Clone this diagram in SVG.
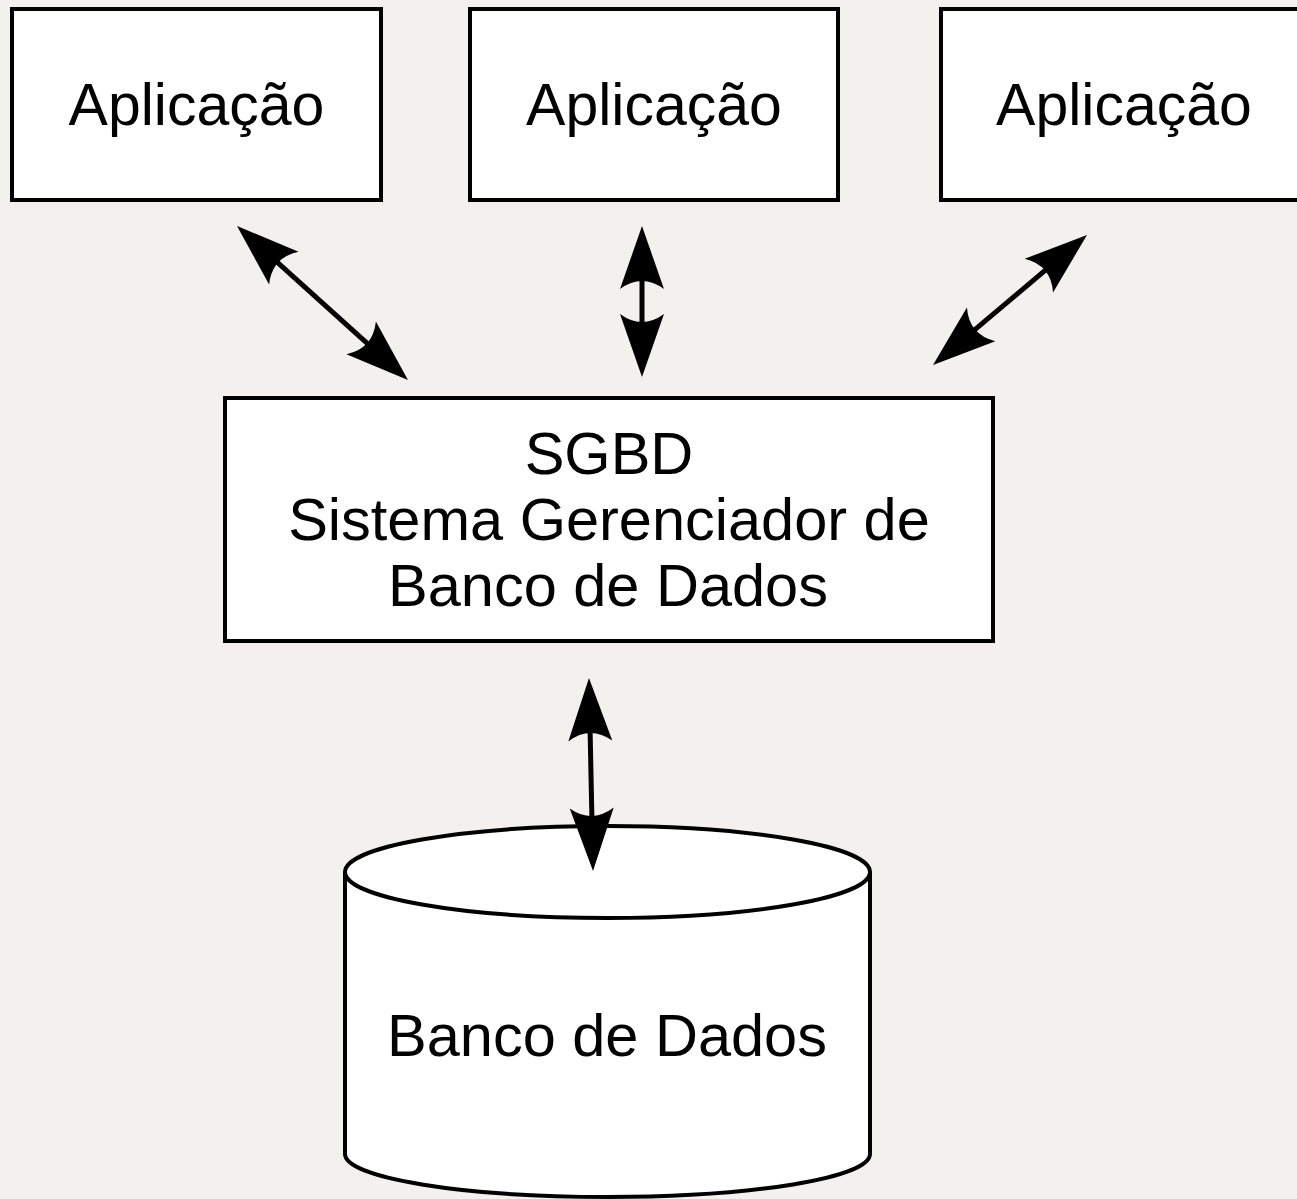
<svg xmlns="http://www.w3.org/2000/svg" width="1297" height="1199" viewBox="0 0 1297 1199">
<style>
.box{fill:#ffffff;stroke:#000000;stroke-width:4}
.lbl{font-family:"Liberation Sans",Arial,sans-serif;font-size:59px;fill:#000000;text-anchor:middle}
.big{font-size:59.5px}
.conn{stroke:#000000;stroke-width:5;fill:none;marker-start:url(#ah);marker-end:url(#ah)}
</style>
<defs>
<marker id="ah" markerUnits="userSpaceOnUse" markerWidth="70" markerHeight="50" viewBox="0 -25 70 50" refX="38" refY="0" orient="auto-start-reverse" overflow="visible">
<path d="M63,0 L0,-22 Q16,0 0,22 Z" fill="#000000"/>
</marker>
</defs>
<rect width="1297" height="1199" fill="#f2f1ee"/>
<g id="app1">
<rect class="box" x="12" y="9" width="369" height="191"/>
<text class="lbl" x="196.5" y="125">Aplicação</text>
</g>
<g id="app2">
<rect class="box" x="470" y="9" width="368" height="191"/>
<text class="lbl" x="654" y="125">Aplicação</text>
</g>
<g id="app3">
<rect class="box" x="941" y="9" width="362" height="191"/>
<text class="lbl" x="1124" y="125">Aplicação</text>
</g>
<g id="sgbd">
<rect class="box" x="225" y="398" width="768" height="243"/>
<text class="lbl big" x="609" y="474">SGBD</text>
<text class="lbl big" x="609" y="540">Sistema Gerenciador de</text>
<text class="lbl big" x="608" y="606">Banco de Dados</text>
</g>
<g id="bd">
<path class="box" d="M345,872 L345,1154 A262.5,43 0 0 0 870,1154 L870,872"/>
<ellipse class="box" cx="607.5" cy="872" rx="262.5" ry="46"/>
<text class="lbl big" x="607" y="1056">Banco de Dados</text>
</g>
<g id="connectors">
<line class="conn" x1="255.6" y1="242.7" x2="389.4" y2="363.3"/>
<line class="conn" x1="642" y1="251" x2="642" y2="352"/>
<line class="conn" x1="1067.9" y1="251.1" x2="952.1" y2="348.9"/>
<line class="conn" x1="589.5" y1="703" x2="592.5" y2="846"/>
</g>
</svg>
